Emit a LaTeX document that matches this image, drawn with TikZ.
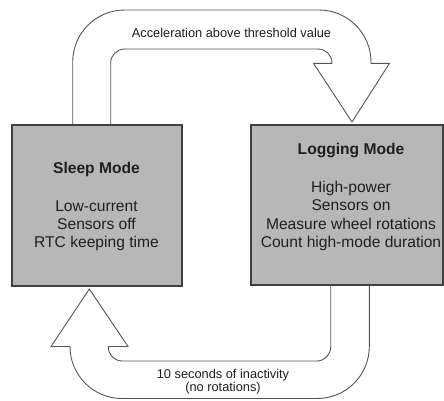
\documentclass[tikz,border=0pt]{standalone}
\usepackage{fontspec}
\setmainfont{Liberation Sans}
\definecolor{boxfill}{HTML}{B7B7B7}
\definecolor{boxline}{HTML}{404040}
\definecolor{arrline}{HTML}{555555}
\definecolor{txt}{HTML}{1F1F1F}
\begin{document}
\begin{tikzpicture}[x=1pt,y=-1pt,
  modebox/.style={draw=boxline, fill=boxfill, line width=1.2pt, inner sep=0pt, outer sep=0pt},
  blockarrow/.style={draw=arrline, fill=white, line width=0.9pt, line join=miter},
  titletext/.style={anchor=base, inner sep=0pt, text=txt, font=\fontsize{15.6}{18.3}\selectfont\bfseries},
  bodytext/.style={anchor=base, inner sep=0pt, text=txt, font=\fontsize{15.6}{18.3}\selectfont},
  labeltext/.style={anchor=base, inner sep=0pt, text=txt, font=\fontsize{12.8}{13}\selectfont}]
\useasboundingbox (0,0) rectangle (444,400);

% coordinates where the block arrows meet the boxes
\coordinate (tA) at (72.7,125);
\coordinate (tB) at (110.7,125);
\coordinate (bA) at (330.7,285);
\coordinate (bB) at (369.3,285);

% top block arrow: Sleep -> Logging
\path[blockarrow] (tA) -- (72.7,62) arc[start angle=180, end angle=90, radius=52pt]
  -- (319,10) arc[start angle=90, end angle=0, radius=52pt]
  -- (371,63.3) -- (389.5,63.3) -- (352,122) -- (313.5,63.3) -- (332,63.3)
  -- (332,63) arc[start angle=0, end angle=90, radius=14pt]
  -- (124.7,49) arc[start angle=90, end angle=180, radius=14pt]
  -- (tB);

% bottom block arrow: Logging -> Sleep
\path[blockarrow] (bA) -- (330.7,347) arc[start angle=0, end angle=-90, radius=14pt]
  -- (122.3,361) arc[start angle=270, end angle=180, radius=14pt]
  -- (108.3,346.5) -- (128,346.5) -- (89.3,289) -- (51,346.5) -- (70,346.5)
  arc[start angle=180, end angle=270, radius=52pt]
  -- (317.3,398.5) arc[start angle=270, end angle=360, radius=52pt]
  -- (bB);

% boxes
\node[modebox, minimum width=170pt, minimum height=161pt] (sleep) at (97,205.5) {};
\node[modebox, minimum width=192pt, minimum height=160pt] (log) at (347,205) {};

% sleep mode text
\node[titletext] (sleepT) at (96.5,173.3) {Sleep Mode};
\node[bodytext] (s1) at (96.5,211.5) {Low-current};
\node[bodytext] (s2) at (96.5,229.7) {Sensors off};
\node[bodytext] (s3) at (96.5,247.7) {RTC keeping time};

% logging mode text
\node[titletext] (logT) at (351,154.3) {Logging Mode};
\node[bodytext] (l1) at (351,192.5) {High-power};
\node[bodytext] (l2) at (351,210.8) {Sensors on};
\node[bodytext] (l3) at (351,229.1) {Measure wheel rotations};
\node[bodytext] (l4) at (351,247.5) {Count high-mode duration};

% arrow labels
\node[labeltext] (topL) at (231.5,37.5) {Acceleration above threshold value};
\node[labeltext] (botL1) at (223,378.3) {10 seconds of inactivity};
\node[labeltext] (botL2) at (223,391.3) {(no rotations)};
\end{tikzpicture}
\end{document}
